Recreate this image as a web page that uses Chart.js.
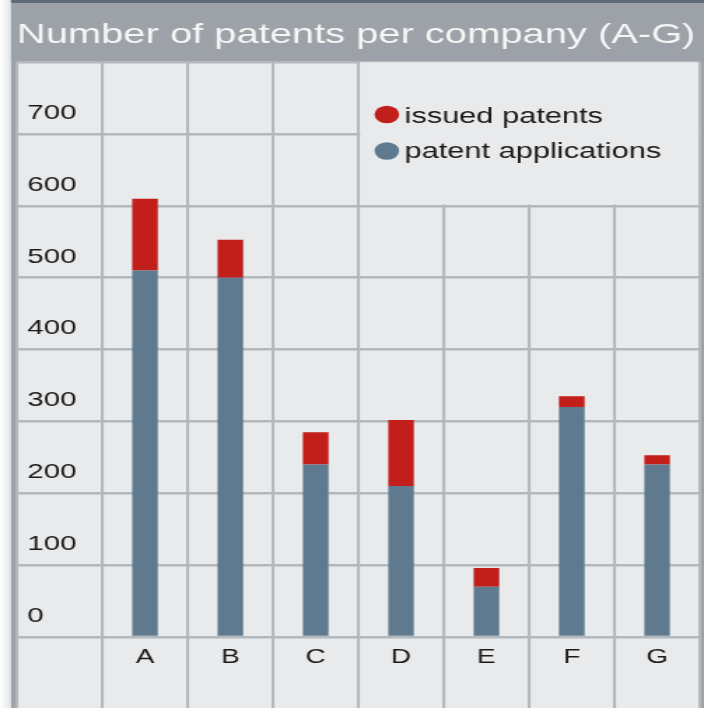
<!DOCTYPE html>
<html>
<head>
<meta charset="utf-8">
<script src="https://cdn.jsdelivr.net/npm/chart.js@4/dist/chart.umd.min.js"></script>
<style>
  html, body { margin: 0; padding: 0; background: #fff; overflow: hidden; }
  /* the reference is stretched sideways, so draw narrow and widen it */
  #wrap { position: absolute; left: 0; top: 0; width: 503px; height: 708px;
          transform: scaleX(1.3996); transform-origin: 0 0; }
</style>
</head>
<body>
<div id="wrap"><canvas id="myChart"></canvas></div>
<script>
// first slot is the empty column that holds the y labels
const companies = ['', 'A', 'B', 'C', 'D', 'E', 'F', 'G'];
const patentApplications = [null, 510, 500, 240, 210, 70, 320, 240];
const issuedPatents = [null, 100, 53, 45, 92, 26, 15, 13];
const yTickValues = [0, 100, 200, 300, 400, 500, 600, 700, 800];

const gridColor = '#b3b8bc';
const panelColor = '#e9eaec';
const frameColor = '#9da2a8';
const font = 'Liberation Sans, Arial, sans-serif';

// backgrounds: title bar, frame and grid panel
const backdrop = {
  id: 'backdrop',
  beforeDraw(chart) {
    const ctx = chart.ctx, a = chart.chartArea;
    const w = chart.width, h = chart.height;
    ctx.save();
    let g = ctx.createLinearGradient(0, 0, 8, 0);
    g.addColorStop(0, '#ffffff');
    g.addColorStop(1, '#e4e5e6');
    ctx.fillStyle = g;
    ctx.fillRect(0, 0, 8, h);
    ctx.fillStyle = frameColor;
    ctx.fillRect(7.9, 0, w - 7.9, a.top);
    ctx.fillRect(7.9, 0, a.left - 7.9, h);
    ctx.fillRect(a.right, 0, w - a.right, h);
    ctx.fillStyle = '#5e6979';
    ctx.fillRect(7.9, 0, w - 7.9, 3);
    ctx.fillStyle = panelColor;
    ctx.fillRect(a.left, a.top, a.right - a.left, h - a.top);
    ctx.restore();
  }
};

// the legend sits in a cleared box in the top right cells
const legendBox = {
  id: 'legendBox',
  beforeDatasetsDraw(chart) {
    const ctx = chart.ctx, a = chart.chartArea;
    const x = chart.scales.x, y = chart.scales.y;
    const left = (x.getPixelForValue(3) + x.getPixelForValue(4)) / 2 + 1.2;
    const bottom = y.getPixelForValue(600) - 1.3;
    ctx.save();
    ctx.fillStyle = panelColor;
    ctx.fillRect(left, a.top, a.right - 1.1 - left, bottom - a.top);
    const items = chart.data.datasets.slice().reverse();
    const rows = [{dot: 114.5, base: 122.5}, {dot: 151, base: 157.5}];
    items.forEach((ds, i) => {
      ctx.fillStyle = ds.backgroundColor;
      ctx.beginPath();
      ctx.arc(276.4, rows[i].dot, 8.8, 0, Math.PI * 2);
      ctx.fill();
      ctx.fillStyle = '#1a1a1a';
      ctx.font = '22px ' + font;
      ctx.textBaseline = 'alphabetic';
      ctx.textAlign = 'left';
      ctx.fillText(ds.label, 289, rows[i].base);
    });
    ctx.restore();
  }
};

var ctx = document.getElementById('myChart').getContext('2d');
var chart = new Chart(ctx, {
  type: 'bar',
  data: {
    labels: companies,
    datasets: [{
      label: 'patent applications',
      data: patentApplications,
      backgroundColor: '#5f7a8f'
    }, {
      label: 'issued patents',
      data: issuedPatents,
      backgroundColor: '#c21e1a'
    }]
  },
  options: {
    responsive: true,
    maintainAspectRatio: false,
    animation: false,
    layout: { padding: { left: 12.1, right: 3, top: 0, bottom: 0 } },
    datasets: { bar: { barPercentage: 0.3, categoryPercentage: 1 } },
    scales: {
      x: {
        stacked: true,
        grid: { color: gridColor, lineWidth: 2.1, tickLength: 71, drawTicks: true },
        border: { display: false },
        ticks: { color: '#1a1a1a', padding: -63, font: { family: font, size: 20 } },
        afterFit(s) { s.height = 71; }
      },
      y: {
        stacked: true,
        min: 0,
        max: 800,
        afterBuildTicks(s) { s.ticks = yTickValues.map(v => ({ value: v })); },
        afterFit(s) { s.width = 0; },
        grid: { color: gridColor, lineWidth: 2.6, drawTicks: false },
        border: { display: false },
        ticks: {
          mirror: true,
          padding: 7.5,
          labelOffset: -21,
          color: '#1a1a1a',
          font: { family: font, size: 21 },
          callback: v => v === 800 ? '' : v
        }
      }
    },
    plugins: {
      legend: { display: false },
      tooltip: { enabled: false },
      title: {
        display: true,
        text: 'Number of patents per company (A-G)',
        align: 'start',
        color: '#f6f6f6',
        font: { family: font, size: 28.5, weight: 'normal' },
        padding: { top: 18, bottom: 10 }
      }
    }
  },
  plugins: [backdrop, legendBox]
});
</script>
</body>
</html>
